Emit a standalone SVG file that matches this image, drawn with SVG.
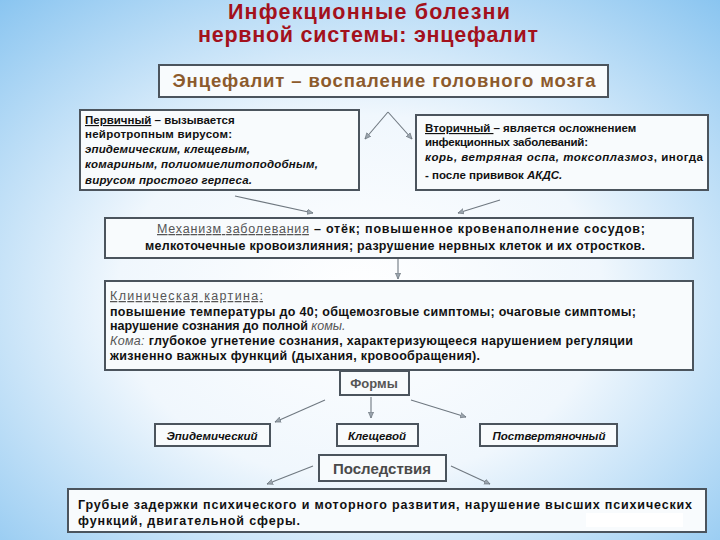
<svg xmlns="http://www.w3.org/2000/svg" width="720" height="540" viewBox="0 0 720 540">
  <defs>
    <radialGradient id="bg" cx="50%" cy="55%" r="75%">
      <stop offset="0" stop-color="#ffffff"/>
      <stop offset="0.45" stop-color="#f0f7fd"/>
      <stop offset="1" stop-color="#88c4f0"/>
    </radialGradient>
    <marker id="ah" viewBox="0 0 10 10" refX="9" refY="5" markerWidth="6" markerHeight="6" orient="auto">
      <path d="M0,1 L9,5 L0,9 Z" fill="#9aa4ad" stroke="#6b747c" stroke-width="1"/>
    </marker>
  </defs>
  <style>
    .box{fill:#f8fbfd;stroke:#4b545d;stroke-width:2}
    .t{font-family:"Liberation Sans",Arial,sans-serif;font-weight:bold;fill:#111}
    .s{font-size:11.5px}
    .m{font-size:12.5px}
    .i{font-style:italic}
    .g{fill:#555;font-weight:normal}
    .u{text-decoration:underline}
    .c{stroke:#6f7880;stroke-width:1.1;fill:none;marker-end:url(#ah)}
  </style>
  <rect width="720" height="540" fill="url(#bg)"/>

  <g id="title">
    <text class="t" x="369" y="19" text-anchor="middle" font-size="21.5" style="fill:#a3111c" textLength="282" lengthAdjust="spacing">Инфекционные болезни</text>
    <text class="t" x="368" y="42" text-anchor="middle" font-size="21.5" style="fill:#a3111c" textLength="340" lengthAdjust="spacing">нервной системы: энцефалит</text>
  </g>

  <g id="connectors">
    <line class="c" x1="388" y1="112" x2="365" y2="139"/>
    <line class="c" x1="388" y1="112" x2="412" y2="139"/>
    <line class="c" x1="235" y1="196" x2="313" y2="213"/>
    <line class="c" x1="500" y1="200" x2="458" y2="213"/>
    <line class="c" x1="398" y1="259" x2="398" y2="279"/>
    <line class="c" x1="325" y1="400" x2="275" y2="422"/>
    <line class="c" x1="371" y1="397" x2="371" y2="418"/>
    <line class="c" x1="411" y1="400" x2="466" y2="417"/>
    <line class="c" x1="313" y1="466" x2="267" y2="484"/>
    <line class="c" x1="451" y1="466" x2="490" y2="484"/>
  </g>

  <g id="definition">
    <rect class="box" x="159" y="65" width="449" height="32"/>
    <text class="t" x="384" y="87" text-anchor="middle" font-size="18.5" style="fill:#8c5a2c" textLength="423" lengthAdjust="spacing">Энцефалит – воспаление головного мозга</text>
  </g>

  <g id="primary">
    <rect class="box" x="80" y="110" width="279" height="80"/>
    <text class="t s" x="85" y="124"><tspan class="u">Первичный</tspan> – вызывается</text>
    <text class="t s" x="85" y="138" textLength="147" lengthAdjust="spacing">нейротропным вирусом:</text>
    <text class="t s i" x="85" y="153" textLength="165" lengthAdjust="spacing">эпидемическим, клещевым,</text>
    <text class="t s i" x="85" y="168" textLength="233" lengthAdjust="spacing">комариным, полиомиелитоподобным,</text>
    <text class="t s i" x="85" y="184" textLength="167" lengthAdjust="spacing">вирусом простого герпеса.</text>
  </g>

  <g id="secondary">
    <rect class="box" x="416" y="115" width="292" height="75"/>
    <text class="t s" x="425" y="132"><tspan class="u">Вторичный </tspan>–  является осложнением</text>
    <text class="t s" x="425" y="146" textLength="163" lengthAdjust="spacing">инфекционных заболеваний:</text>
    <text class="t s" x="425" y="161" textLength="278" lengthAdjust="spacing"><tspan class="i">корь, ветряная оспа, токсоплазмоз</tspan>, иногда</text>
    <text class="t s" x="425" y="179">- после прививок <tspan class="i">АКДС.</tspan></text>
  </g>

  <g id="mechanism">
    <rect class="box" x="105" y="218" width="588" height="40"/>
    <text class="t m" x="157" y="233" textLength="488" lengthAdjust="spacing"><tspan class="g u">Механизм заболевания</tspan> – отёк; повышенное кровенаполнение сосудов;</text>
    <text class="t m" x="145" y="250" textLength="500" lengthAdjust="spacing">мелкоточечные кровоизлияния; разрушение нервных клеток и их отростков.</text>
  </g>

  <g id="clinical">
    <rect class="box" x="105" y="281" width="588" height="89"/>
    <text class="t m g u" x="110" y="300" textLength="153" lengthAdjust="spacing">Клиническая картина:</text>
    <text class="t m" x="110" y="316" textLength="526" lengthAdjust="spacing">повышение температуры до 40; общемозговые симптомы; очаговые симптомы;</text>
    <text class="t m" x="110" y="330">нарушение сознания до полной <tspan class="g i">комы.</tspan></text>
    <text class="t m" x="110" y="345" textLength="523" lengthAdjust="spacing"><tspan class="g i">Кома:</tspan> глубокое угнетение сознания, характеризующееся нарушением регуляции</text>
    <text class="t m" x="110" y="360" textLength="370" lengthAdjust="spacing">жизненно важных функций (дыхания, кровообращения).</text>
  </g>

  <g id="forms">
    <rect class="box" x="340" y="371" width="69" height="24"/>
    <text class="t" x="374" y="388" text-anchor="middle" font-size="13" style="fill:#555">Формы</text>
  </g>

  <g id="epidemic">
    <rect class="box" x="155" y="424" width="115" height="22"/>
    <text class="t s i" x="212" y="440" text-anchor="middle">Эпидемический</text>
  </g>

  <g id="tick">
    <rect class="box" x="337" y="424" width="81" height="22"/>
    <text class="t s i" x="377" y="440" text-anchor="middle">Клещевой</text>
  </g>

  <g id="postvaricella">
    <rect class="box" x="480" y="424" width="137" height="22"/>
    <text class="t s i" x="549" y="440" text-anchor="middle">Поствертяночный</text>
  </g>

  <g id="consequences">
    <rect class="box" x="319" y="455" width="127" height="26"/>
    <text class="t" x="382" y="474" text-anchor="middle" font-size="15" style="fill:#4a4a4a">Последствия</text>
  </g>

  <g id="outcome">
    <rect class="box" x="68" y="489" width="638" height="43"/>
    <text class="t m" x="78" y="509" textLength="614" lengthAdjust="spacing">Грубые задержки психического и моторного развития, нарушение высших психических</text>
    <text class="t m" x="78" y="525" textLength="222" lengthAdjust="spacing">функций, двигательной сферы.</text>
    <rect x="586" y="513" width="97" height="14" fill="#ffffff"/>
  </g>
</svg>
